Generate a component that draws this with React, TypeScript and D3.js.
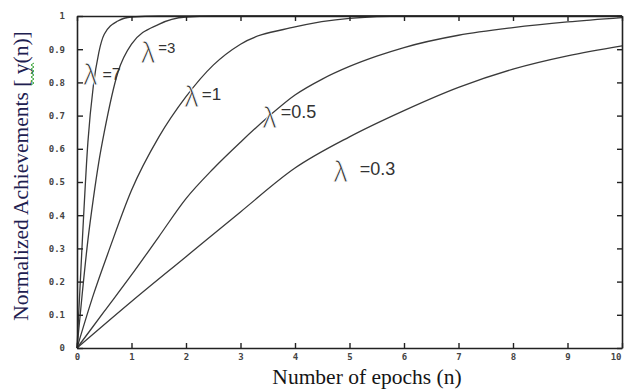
import React, { useRef, useEffect } from "react";
import * as d3 from "d3";

// Curves: epochs (n) and normalized achievement y(n)
const lambdas = ["7", "3", "1", "0.5", "0.3"];

const epochsL7 = [0, 0.1, 0.2, 0.3, 0.4, 0.5, 0.75, 1, 1.5, 10];
const valuesL7 = [0, 0.33, 0.62, 0.79, 0.89, 0.945, 0.985, 0.997, 1, 1];

const epochsL3 = [0, 0.1, 0.2, 0.3, 0.4, 0.5, 0.75, 1, 1.5, 2, 2.5, 10];
const valuesL3 = [0, 0.17, 0.325, 0.45, 0.56, 0.65, 0.83, 0.915, 0.975, 0.997, 1, 1];

const epochsL1 = [0, 0.3, 0.6, 1, 1.5, 2, 2.5, 3, 4, 5, 6, 10];
const valuesL1 = [0, 0.16, 0.3, 0.475, 0.635, 0.757, 0.852, 0.915, 0.967, 0.993, 1, 1];

const epochsL05 = [0, 0.5, 1, 1.5, 2, 2.5, 3, 3.5, 4, 4.5, 5, 5.5, 6, 7, 8, 9, 10];
const valuesL05 = [0, 0.11, 0.22, 0.335, 0.45, 0.54, 0.62, 0.695, 0.762, 0.81, 0.848, 0.879, 0.905, 0.942, 0.965, 0.982, 0.995];

const epochsL03 = [0, 1, 2, 3, 4, 5, 6, 7, 8, 9, 10];
const valuesL03 = [0, 0.14, 0.275, 0.41, 0.542, 0.636, 0.715, 0.785, 0.84, 0.88, 0.91];

const xTicks = [0, 1, 2, 3, 4, 5, 6, 7, 8, 9, 10];
const xTickLabels = ["0", "1", "2", "3", "4", "5", "6", "7", "8", "9", "10"];
const yTicks = [0, 0.1, 0.2, 0.3, 0.4, 0.5, 0.6, 0.7, 0.8, 0.9, 1];
const yTickLabels = ["0", "0.1", "0.2", "0.3", "0.4", "0.5", "0.6", "0.7", "0.8", "0.9", "1"];

// where each λ label sits, in data units (n, y)
const labelEpochs = [0.11, 1.17, 1.97, 3.4, 4.7];
const labelLevels = [0.792, 0.858, 0.726, 0.663, 0.5];

const W = 624;
const H = 390;

export default function App() {
  const svgRef = useRef<SVGSVGElement>(null);

  useEffect(() => {
    const svg = d3.select(svgRef.current);
    svg.selectAll("*").remove();

    const margin = { top: 16, right: 2, bottom: 42, left: 77 };
    const x = d3.scaleLinear().domain([0, 10]).range([margin.left, W - margin.right]);
    const y = d3.scaleLinear().domain([0, 1]).range([H - margin.bottom, margin.top]);

    svg.append("rect").attr("width", W).attr("height", H).attr("fill", "#fff");

    const series = [
      { n: epochsL7, v: valuesL7 },
      { n: epochsL3, v: valuesL3 },
      { n: epochsL1, v: valuesL1 },
      { n: epochsL05, v: valuesL05 },
      { n: epochsL03, v: valuesL03 },
    ];

    const line = d3
      .line<[number, number]>()
      .x((d) => x(d[0]))
      .y((d) => y(d[1]))
      .curve(d3.curveMonotoneX);

    // curves
    svg
      .append("g")
      .selectAll("path")
      .data(series)
      .join("path")
      .attr("d", (s) => line(s.n.map((n, i) => [n, s.v[i]] as [number, number])))
      .attr("fill", "none")
      .attr("stroke", "#3a3a3a")
      .attr("stroke-width", 1.3);

    // box with inward ticks on all four sides
    const styleAxis = (g) => {
      g.selectAll(".domain").attr("stroke", "#222").attr("stroke-width", 1.6);
      g.selectAll(".tick line").attr("stroke", "#222").attr("stroke-width", 1.4);
      g.selectAll("text")
        .attr("fill", "#444")
        .attr("font-size", "9px")
        .attr("font-weight", "bold")
        .attr("font-family", "'DejaVu Sans Mono', monospace");
    };

    const bottom = svg
      .append("g")
      .attr("transform", `translate(0,${y(0)})`)
      .call(
        d3.axisBottom(x).tickValues(xTicks).tickSizeInner(-5).tickSizeOuter(0).tickPadding(6)
          .tickFormat((d, i) => xTickLabels[i])
      )
      .call(styleAxis);
    // the last label sits on the window edge: keep it inside
    bottom.selectAll(".tick text").filter((d) => d === 10).attr("text-anchor", "end").attr("dx", -1);

    svg
      .append("g")
      .attr("transform", `translate(${x(0)},0)`)
      .call(
        d3.axisLeft(y).tickValues(yTicks).tickSizeInner(-6).tickSizeOuter(0).tickPadding(12)
          .tickFormat((d, i) => yTickLabels[i])
      )
      .call(styleAxis);

    svg
      .append("g")
      .attr("transform", `translate(0,${y(1)})`)
      .call(d3.axisTop(x).tickValues(xTicks).tickSizeInner(-5).tickSizeOuter(0).tickFormat(() => ""))
      .call(styleAxis);

    svg
      .append("g")
      .attr("transform", `translate(${x(10)},0)`)
      .call(d3.axisRight(y).tickValues(yTicks).tickSizeInner(-5).tickSizeOuter(0).tickFormat(() => ""))
      .call(styleAxis);

    // λ labels
    const gaps = [5, 3, 3, 4, 12];
    const rise = [-5, -10, -7, -10, -7];
    const numSize = [16, 15, 17, 18, 18];
    const labels = svg
      .append("g")
      .selectAll("text")
      .data(lambdas)
      .join("text")
      .attr("x", (d, i) => x(labelEpochs[i]))
      .attr("y", (d, i) => y(labelLevels[i]))
      .attr("fill", "#333")
      .attr("font-family", "'Liberation Sans', Arial, sans-serif");
    labels
      .append("tspan")
      .attr("font-size", "29px")
      .attr("stroke", "#fff")
      .attr("stroke-width", 0.9)
      .text("λ");
    labels
      .append("tspan")
      .attr("dx", (d, i) => gaps[i])
      .attr("dy", (d, i) => rise[i])
      .attr("font-size", (d, i) => `${numSize[i]}px`)
      .text((d) => `=${d}`);

    // axis titles
    svg
      .append("text")
      .attr("x", 367)
      .attr("y", 384)
      .attr("text-anchor", "middle")
      .attr("font-family", "'Liberation Serif', 'Times New Roman', serif")
      .attr("font-size", "21.5px")
      .attr("fill", "#151515")
      .text("Number of epochs (n)");

    svg
      .append("text")
      .attr("transform", "translate(28,176) rotate(-90)")
      .attr("text-anchor", "middle")
      .attr("font-family", "'Liberation Serif', 'Times New Roman', serif")
      .attr("font-size", "21.5px")
      .attr("fill", "#1e2050")
      .text("Normalized Achievements [ y(n)]");

    // spell-check squiggle under the "y"
    const squiggle = d3.range(63, 86, 2).map((p, i) => [i % 2 ? 31 : 34, p] as [number, number]);
    svg
      .append("path")
      .attr("d", d3.line()(squiggle))
      .attr("fill", "none")
      .attr("stroke", "#3aa53a")
      .attr("stroke-width", 1);
  }, []);

  return (
    <svg
      ref={svgRef}
      width={W}
      height={H}
      style={{ position: "absolute", left: 0, top: 0 }}
    />
  );
}
